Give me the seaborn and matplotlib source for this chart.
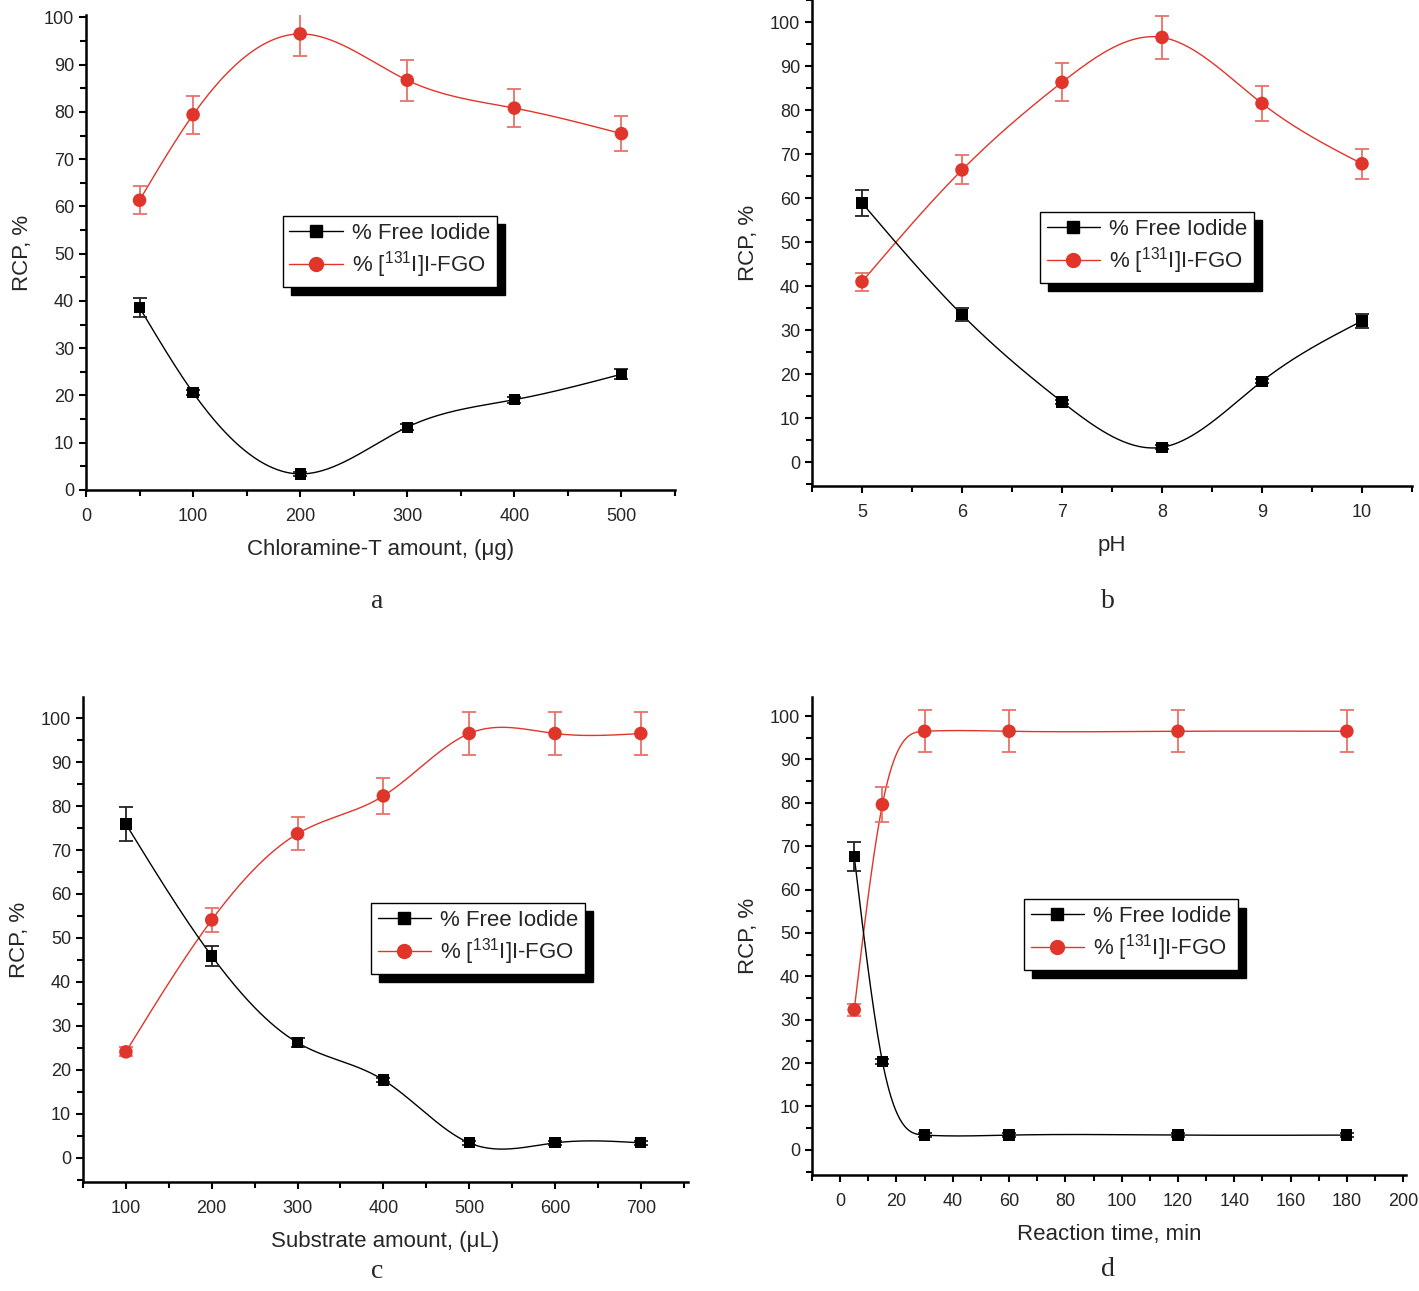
import numpy as np
import pandas as pd
import matplotlib
matplotlib.use('Agg')
import matplotlib.pyplot as plt
from matplotlib.lines import Line2D
from matplotlib.ticker import MultipleLocator
import seaborn as sns

# panel a - chloramine-T amount
chl_x = [50, 100, 200, 300, 400, 500]
chl_free = [38.6, 20.6, 3.4, 13.3, 19.1, 24.5]
chl_free_err = [2.0, 0.6, 0.5, 0.6, 0.6, 1.0]
chl_fgo = [61.3, 79.4, 96.5, 86.7, 80.8, 75.4]
chl_fgo_err = [3.0, 4.0, 4.6, 4.3, 4.0, 3.7]

# panel b - pH
ph_x = [5, 6, 7, 8, 9, 10]
ph_free = [58.9, 33.5, 13.7, 3.4, 18.4, 32.1]
ph_free_err = [2.9, 1.5, 0.5, 0.5, 0.5, 1.5]
ph_fgo = [41.0, 66.4, 86.3, 96.5, 81.5, 67.8]
ph_fgo_err = [2.0, 3.3, 4.3, 4.8, 4.0, 3.4]

# panel c - substrate amount
sub_x = [100, 200, 300, 400, 500, 600, 700]
sub_free = [75.9, 45.9, 26.2, 17.7, 3.4, 3.4, 3.4]
sub_free_err = [3.8, 2.3, 1.0, 0.4, 0.4, 0.4, 0.4]
sub_fgo = [24.1, 54.1, 73.7, 82.3, 96.5, 96.5, 96.5]
sub_fgo_err = [1.0, 2.7, 3.7, 4.1, 4.8, 4.8, 4.8]

# panel d - reaction time
time_x = [5, 15, 30, 60, 120, 180]
time_free = [67.7, 20.4, 3.4, 3.4, 3.4, 3.4]
time_free_err = [3.3, 0.5, 0.5, 0.5, 0.5, 0.5]
time_fgo = [32.3, 79.6, 96.5, 96.5, 96.5, 96.5]
time_fgo_err = [1.4, 4.0, 4.8, 4.8, 4.8, 4.8]

RED = '#e0352a'
RED_ERR = '#e8726a'

sns.set_style('ticks')
plt.rcParams['font.family'] = ['Liberation Sans', 'DejaVu Sans']
plt.rcParams['mathtext.default'] = 'regular'


def spline(x, y, n=300):
  # natural cubic spline through the points, to mimic Origin's smoothed line
  x = np.asarray(x, float)
  y = np.asarray(y, float)
  k = len(x)
  h = np.diff(x)
  A = np.zeros((k, k))
  b = np.zeros(k)
  A[0, 0] = 1
  A[-1, -1] = 1
  for i in range(1, k - 1):
    A[i, i - 1] = h[i - 1]
    A[i, i] = 2 * (h[i - 1] + h[i])
    A[i, i + 1] = h[i]
    b[i] = 6 * ((y[i + 1] - y[i]) / h[i] - (y[i] - y[i - 1]) / h[i - 1])
  m = np.linalg.solve(A, b)
  xs = np.linspace(x[0], x[-1], n)
  idx = np.clip(np.searchsorted(x, xs) - 1, 0, k - 2)
  x0, x1 = x[idx], x[idx + 1]
  hh = x1 - x0
  t0 = x1 - xs
  t1 = xs - x0
  ys = (m[idx] * t0 ** 3 + m[idx + 1] * t1 ** 3) / (6 * hh) \
    + (y[idx] / hh - m[idx] * hh / 6) * t0 + (y[idx + 1] / hh - m[idx + 1] * hh / 6) * t1
  return pd.DataFrame({'x': xs, 'y': ys})


def panel(ax, x, free, free_err, fgo, fgo_err, xlabel, xlim, ylim, xmaj, xmin, leg_pos):
  sns.lineplot(data=spline(x, fgo), x='x', y='y', ax=ax, color=RED, lw=1.0, sort=False)
  sns.lineplot(data=spline(x, free), x='x', y='y', ax=ax, color='black', lw=1.0, sort=False)
  ax.errorbar(x, fgo, yerr=fgo_err, fmt='none', ecolor=RED_ERR, elinewidth=1.3, capsize=5, capthick=1.3)
  ax.errorbar(x, free, yerr=free_err, fmt='none', ecolor='#222222', elinewidth=1.3, capsize=5, capthick=1.3)
  df = pd.DataFrame({'x': x, 'fgo': fgo, 'free': free})
  sns.scatterplot(data=df, x='x', y='fgo', ax=ax, color=RED, marker='o', s=95, edgecolor='none', zorder=5)
  sns.scatterplot(data=df, x='x', y='free', ax=ax, color='black', marker='s', s=65, edgecolor='none', zorder=5)

  ax.set_xlim(*xlim)
  ax.set_ylim(*ylim)
  ax.xaxis.set_major_locator(MultipleLocator(xmaj))
  ax.xaxis.set_minor_locator(MultipleLocator(xmin))
  ax.yaxis.set_major_locator(MultipleLocator(10))
  ax.yaxis.set_minor_locator(MultipleLocator(5))
  ax.set_yticks(np.arange(0, 101, 10))
  ax.tick_params(which='major', direction='out', length=5, width=1.5, labelsize=13, color='black')
  ax.tick_params(axis='x', which='major', pad=8)
  ax.tick_params(which='minor', direction='out', length=4, width=1.5, color='black')
  for s in ['left', 'bottom']:
    ax.spines[s].set_linewidth(1.8)
    ax.spines[s].set_color('black')
  sns.despine(ax=ax)
  ax.set_xlabel(xlabel, fontsize=16, labelpad=10)
  ax.set_ylabel('RCP, %', fontsize=16, labelpad=8)

  handles = [
    Line2D([], [], color='black', lw=1.0, marker='s', markersize=8),
    Line2D([], [], color=RED, lw=1.0, marker='o', markersize=10),
  ]
  ax.legend(handles, ['% Free Iodide', '% [$^{131}$I]I-FGO'], loc='upper left',
            bbox_to_anchor=leg_pos, fontsize=16, fancybox=False, framealpha=1,
            edgecolor='black', handlelength=2.4, handletextpad=0.4, borderpad=0.3,
            labelspacing=0.25, borderaxespad=0,
            shadow={'color': 'black', 'alpha': 1, 'ox': 6, 'oy': -6})


W, H = 1419, 1291
fig = plt.figure(figsize=(W / 100, H / 100), dpi=100)

def box(l, t, r, b):
  return [l / W, 1 - b / H, (r - l) / W, (b - t) / H]

ax_a = fig.add_axes(box(86, 15, 675, 490))
ax_b = fig.add_axes(box(812, 0, 1412, 486))
ax_c = fig.add_axes(box(83, 697, 688, 1182))
ax_d = fig.add_axes(box(812, 697, 1406, 1175))

panel(ax_a, chl_x, chl_free, chl_free_err, chl_fgo, chl_fgo_err,
      'Chloramine-T amount, (μg)', (0, 550), (0, 100.5), 100, 50, (0.334, 0.577))
panel(ax_b, ph_x, ph_free, ph_free_err, ph_fgo, ph_fgo_err,
      'pH', (4.5, 10.5), (-5.4, 105), 1, 0.5, (0.38, 0.564))
panel(ax_c, sub_x, sub_free, sub_free_err, sub_fgo, sub_fgo_err,
      'Substrate amount, (μL)', (50, 755), (-5.5, 104.8), 100, 50, (0.476, 0.575))
panel(ax_d, time_x, time_free, time_free_err, time_fgo, time_fgo_err,
      'Reaction time, min', (-10, 201), (-5.8, 104.4), 20, 10, (0.357, 0.577))

for label, (px, py) in zip(['a', 'b', 'c', 'd'], [(377, 602), (1108, 602), (377, 1272), (1108, 1270)]):
  fig.text(px / W, 1 - py / H, label, family='Liberation Serif', fontsize=20, ha='center', va='center')

fig.savefig('out.png', dpi=100)
